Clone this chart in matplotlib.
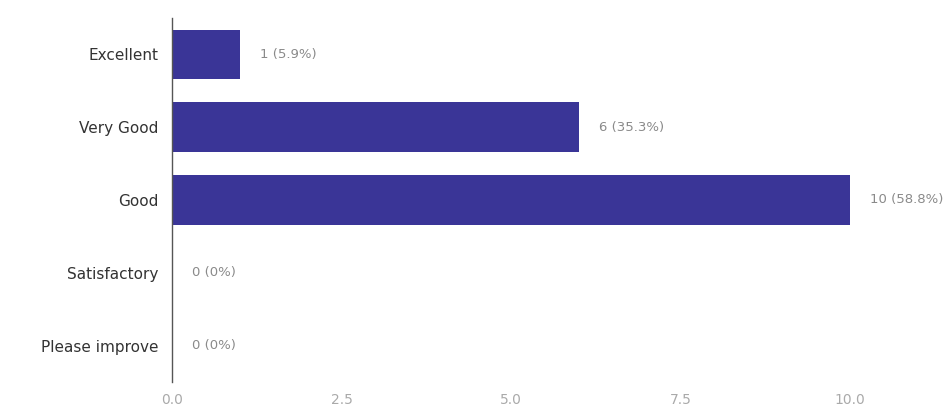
import matplotlib
matplotlib.use("Agg")
import matplotlib.pyplot as plt

categories = ["Excellent", "Very Good", "Good", "Satisfactory", "Please improve"]
counts = [1, 6, 10, 0, 0]
bar_labels = ["1 (5.9%)", "6 (35.3%)", "10 (58.8%)", "0 (0%)", "0 (0%)"]
xticks = [0.0, 2.5, 5.0, 7.5, 10.0]
xtick_labels = ["0.0", "2.5", "5.0", "7.5", "10.0"]

fig = plt.figure(figsize=(9.47, 4.19), dpi=100)
fig.patch.set_facecolor("white")
ax = fig.add_axes([172/947, 1-382/419, (850-172)/947, (382-18)/419])

y = list(range(len(categories)))
ax.barh(y, counts, height=0.68, color="#3a3597")
ax.set_ylim(len(categories)-0.5, -0.5)
ax.set_xlim(0, 10)

for yi, c, lab in zip(y, counts, bar_labels):
    ax.text(c + 0.3, yi, lab, va="center", ha="left", fontsize=9.5,
            color="#8a8a8a", clip_on=False)

ax.set_yticks(y)
ax.set_yticklabels(categories, fontsize=11, color="#333333")
ax.set_xticks(xticks)
ax.set_xticklabels(xtick_labels, fontsize=10, color="#aaaaaa")
ax.tick_params(axis="y", length=0, pad=10)
ax.tick_params(axis="x", length=0, pad=8)

for s in ["top", "right", "bottom"]:
    ax.spines[s].set_visible(False)
ax.spines["left"].set_color("#555555")
ax.spines["left"].set_linewidth(1.0)

fig.savefig("out.png", dpi=100, facecolor="white")
